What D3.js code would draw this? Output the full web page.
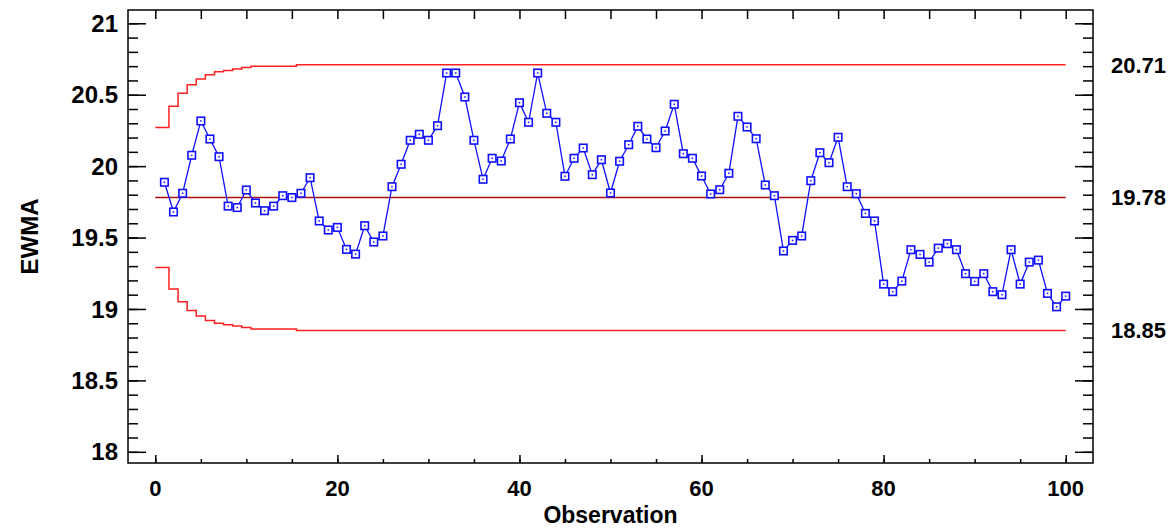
<!DOCTYPE html>
<html>
<head>
<meta charset="utf-8">
<script src="https://cdn.jsdelivr.net/npm/d3@7"></script>
<style>
    body { margin: 0; background: #fff; }
    text { font-family: Arial, "Liberation Sans", sans-serif; font-weight: bold; fill: #000; }
</style>
</head>
<body>
<div id="chart"></div>
<script>
var ewma = [
    19.887, 19.679, 19.81, 20.076, 20.316, 20.19, 20.066, 19.72, 19.71, 19.833,
    19.742, 19.688, 19.72, 19.793, 19.78, 19.81, 19.919, 19.616, 19.553, 19.571,
    19.417, 19.384, 19.583, 19.469, 19.511, 19.856, 20.013, 20.181, 20.223, 20.181,
    20.283, 20.652, 20.652, 20.484, 20.181, 19.908, 20.055, 20.036, 20.19, 20.444,
    20.307, 20.652, 20.37, 20.307, 19.929, 20.055, 20.127, 19.94, 20.045, 19.812,
    20.034, 20.15, 20.279, 20.19, 20.129, 20.246, 20.433, 20.087, 20.055, 19.931,
    19.805, 19.835, 19.95, 20.349, 20.274, 20.192, 19.868, 19.793, 19.406, 19.48,
    19.511, 19.898, 20.094, 20.024, 20.202, 19.856, 19.807, 19.669, 19.616, 19.174,
    19.121, 19.195, 19.415, 19.382, 19.328, 19.426, 19.457, 19.415, 19.247, 19.193,
    19.247, 19.121, 19.1, 19.415, 19.174, 19.328, 19.342, 19.109, 19.015, 19.09
];
var obs = ewma.map(function(d, i) { return i + 1; });

// control limits: the first observations step in, then the limits stay flat
var centerLine = 19.78;
var uclSteps = [20.27, 20.42, 20.51, 20.57, 20.61, 20.64, 20.66, 20.67, 20.68, 20.69, 20.70, 20.70, 20.70, 20.70, 20.70];
var lclSteps = [19.29, 19.14, 19.05, 18.99, 18.95, 18.92, 18.90, 18.89, 18.88, 18.87, 18.86, 18.86, 18.86, 18.86, 18.86];
var uclFinal = 20.71;
var lclFinal = 18.85;
var limitLabels = ["20.71", "19.78", "18.85"];

var yTicks = [18, 18.5, 19, 19.5, 20, 20.5, 21];
var xTicks = [0, 20, 40, 60, 80, 100];

var width = 1174, height = 529;
var plot = {left: 128, right: 1093, top: 10, bottom: 463};

var x = d3.scaleLinear().domain([-3, 103]).range([plot.left, plot.right]);
var y = d3.scaleLinear().domain([18, 21]).range([451.8, 23.3]);

var svg = d3.select("#chart").append("svg")
    .attr("width", width)
    .attr("height", height);

svg.append("rect")
    .attr("width", width)
    .attr("height", height)
    .attr("fill", "#fff");

// frame
svg.append("rect")
    .attr("x", plot.left)
    .attr("y", plot.top)
    .attr("width", plot.right - plot.left)
    .attr("height", plot.bottom - plot.top)
    .attr("fill", "none")
    .attr("stroke", "#000")
    .attr("stroke-width", 1.5);

// y ticks every 0.1, longer at every 0.5 (left and right, pointing inward)
var yMinor = d3.range(180, 211).map(function(d) { return d / 10; });
var yAxisL = d3.axisRight(y).tickValues(yMinor).tickSize(10).tickFormat("");
var yAxisR = d3.axisLeft(y).tickValues(yMinor).tickSize(10).tickFormat("");
var yMajL = d3.axisRight(y).tickValues(yTicks).tickSize(18).tickFormat("");
var yMajR = d3.axisLeft(y).tickValues(yTicks).tickSize(18).tickFormat("");

[[yAxisL, plot.left], [yMajL, plot.left], [yAxisR, plot.right], [yMajR, plot.right]].forEach(function(a) {
    svg.append("g")
        .attr("class", "tick-g")
        .attr("transform", "translate(" + a[1] + ",0)")
        .call(a[0]);
});

// x ticks: bottom majors every 20, minors every 5, top every 5
var xMinor = d3.range(0, 101, 5);
svg.append("g")
    .attr("class", "tick-g")
    .attr("transform", "translate(0," + plot.bottom + ")")
    .call(d3.axisTop(x).tickValues(xMinor).tickSize(4).tickFormat(""));
svg.append("g")
    .attr("class", "tick-g")
    .attr("transform", "translate(0," + plot.bottom + ")")
    .call(d3.axisTop(x).tickValues(xTicks).tickSize(8).tickFormat(""));
svg.append("g")
    .attr("class", "tick-g")
    .attr("transform", "translate(0," + plot.top + ")")
    .call(d3.axisBottom(x).tickValues(xMinor).tickSize(9).tickFormat(""));

svg.selectAll(".tick-g .domain").remove();
svg.selectAll(".tick-g line")
    .attr("stroke", "#000")
    .attr("stroke-width", 1.5);

// tick labels
svg.selectAll(".ylab")
    .data(yTicks)
    .enter().append("text")
    .attr("class", "ylab")
    .attr("x", 118)
    .attr("y", function(d) { return y(d); })
    .attr("dy", "0.36em")
    .attr("text-anchor", "end")
    .style("font-size", "24px")
    .text(function(d) { return d; });

svg.selectAll(".xlab")
    .data(xTicks)
    .enter().append("text")
    .attr("class", "xlab")
    .attr("x", function(d) { return x(d); })
    .attr("y", 496)
    .attr("text-anchor", "middle")
    .style("font-size", "22px")
    .text(function(d) { return d; });

svg.append("text")
    .attr("x", (plot.left + plot.right) / 2)
    .attr("y", 523)
    .attr("text-anchor", "middle")
    .style("font-size", "23px")
    .text("Observation");

svg.append("text")
    .attr("transform", "translate(38," + ((plot.top + plot.bottom) / 2) + ") rotate(-90)")
    .attr("text-anchor", "middle")
    .style("font-size", "24px")
    .text("EWMA");

// control limit step lines
function stepPoints(steps, final) {
    var pts = [{x: 0, v: steps[0]}];
    steps.forEach(function(v, i) {
        if (i > 0) pts.push({x: i + 0.5, v: v});
    });
    pts.push({x: steps.length + 0.5, v: final});
    pts.push({x: obs[obs.length - 1], v: final});
    return pts;
}

var stepLine = d3.line()
    .x(function(d) { return x(d.x); })
    .y(function(d) { return y(d.v); })
    .curve(d3.curveStepAfter);

[stepPoints(uclSteps, uclFinal), stepPoints(lclSteps, lclFinal)].forEach(function(pts) {
    svg.append("path")
        .attr("d", stepLine(pts))
        .attr("fill", "none")
        .attr("stroke", "#ff2020")
        .attr("stroke-width", 1.5);
});

svg.append("line")
    .attr("x1", x(0))
    .attr("x2", x(obs[obs.length - 1]))
    .attr("y1", y(centerLine))
    .attr("y2", y(centerLine))
    .attr("stroke", "#a81010")
    .attr("stroke-width", 1.5);

svg.selectAll(".limlab")
    .data([uclFinal, centerLine, lclFinal])
    .enter().append("text")
    .attr("class", "limlab")
    .attr("x", 1111)
    .attr("y", function(d) { return y(d); })
    .attr("dy", "0.36em")
    .style("font-size", "22px")
    .text(function(d, i) { return limitLabels[i]; });

// EWMA series
var line = d3.line()
    .x(function(d, i) { return x(obs[i]); })
    .y(function(d) { return y(d); });

svg.append("path")
    .attr("d", line(ewma))
    .attr("fill", "none")
    .attr("stroke", "#1010ff")
    .attr("stroke-width", 1.3);

var marks = svg.selectAll(".pt")
    .data(ewma)
    .enter().append("g")
    .attr("class", "pt")
    .attr("transform", function(d, i) { return "translate(" + x(obs[i]) + "," + y(d) + ")"; });

marks.append("rect")
    .attr("x", -3.75)
    .attr("y", -3.75)
    .attr("width", 7.5)
    .attr("height", 7.5)
    .attr("fill", "#fff")
    .attr("stroke", "#1010ff")
    .attr("stroke-width", 1.6);

marks.append("rect")
    .attr("x", -0.75)
    .attr("y", -0.75)
    .attr("width", 1.5)
    .attr("height", 1.5)
    .attr("fill", "#1010ff");
</script>
</body>
</html>
